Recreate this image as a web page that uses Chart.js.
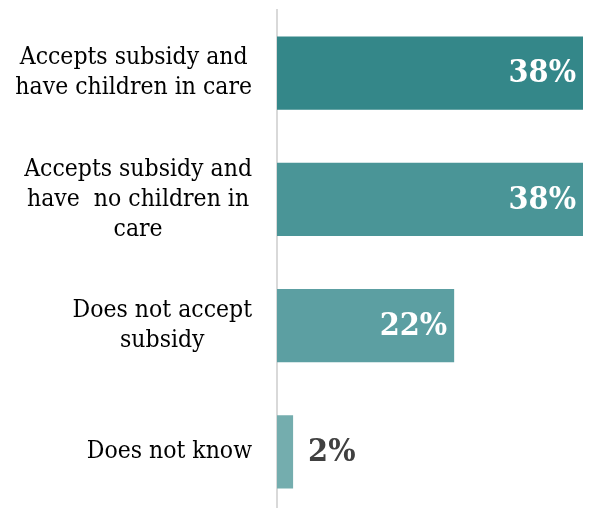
<!DOCTYPE html>
<html lang="en">
<head>
  <meta charset="UTF-8" />
  <script src="https://cdn.jsdelivr.net/npm/chart.js"></script>
  <title>Subsidy</title>
  <style>
    html, body { margin: 0; padding: 0; background: #fff; overflow: hidden; }
    .caixa { width: 590px; height: 516px; position: relative; }
  </style>
</head>
<body>
  <div class="caixa">
    <canvas id="grafico_subsidio"></canvas>
  </div>

<script>
  // dados
  var categorias = [
    ["Accepts subsidy and", "have children in care"],
    ["Accepts subsidy and", "have  no children in", "care"],
    ["Does not accept", "subsidy"],
    ["Does not know"]
  ];
  var valores = [38, 38, 22, 2];
  var cores = ["#348789", "#4a9597", "#5c9fa2", "#74adae"];

  const fonteValor = "bold 32px 'DejaVu Serif Condensed', 'DejaVu Serif', serif";
  const fonteCategoria = "24.5px 'DejaVu Serif Condensed', 'DejaVu Serif', serif";

  // escreve os rotulos % nas barras
  const rotulos = {
    id: "rotulos",
    afterDatasetsDraw(chart) {
      const ctx = chart.ctx;
      const meta = chart.getDatasetMeta(0);
      ctx.save();
      ctx.font = fonteValor;
      ctx.textBaseline = "middle";
      meta.data.forEach(function (barra, i) {
        const v = valores[i];
        if (v >= 10) {
          ctx.fillStyle = "#ffffff";
          ctx.textAlign = "right";
          ctx.fillText(v + "%", barra.x - 7, barra.y + 1);
        } else {
          ctx.fillStyle = "#404040";
          ctx.textAlign = "left";
          ctx.fillText(v + "%", barra.x + 15, barra.y + 1);
        }
      });
      ctx.restore();
    }
  };

  // rotulos das categorias: bloco encostado no eixo, linhas centralizadas
  const categoriasEixo = {
    id: "categoriasEixo",
    afterDraw(chart) {
      const ctx = chart.ctx;
      const escala = chart.scales.y;
      const direita = escala.right - 25;
      const lh = 30;
      ctx.save();
      ctx.font = fonteCategoria;
      ctx.fillStyle = "#000000";
      ctx.textAlign = "center";
      ctx.textBaseline = "middle";
      categorias.forEach(function (linhas, i) {
        const y = escala.getPixelForTick(i);
        let largura = 0;
        linhas.forEach(function (l) { largura = Math.max(largura, ctx.measureText(l).width); });
        const cx = direita - largura / 2;
        linhas.forEach(function (l, j) {
          ctx.fillText(l, cx, y - (linhas.length - 1) * lh / 2 + j * lh);
        });
      });
      ctx.restore();
    }
  };

  const grafico = new Chart(document.getElementById("grafico_subsidio").getContext("2d"), {
    type: "bar",
    data: {
      labels: categorias,
      datasets: [{
        data: valores,
        backgroundColor: cores,
        barPercentage: 0.58,
        categoryPercentage: 1
      }]
    },
    options: {
      indexAxis: "y",
      responsive: true,
      maintainAspectRatio: false,
      animation: false,
      layout: { padding: { top: 10, right: 7, bottom: 1, left: 0 } },
      plugins: {
        legend: { display: false },
        tooltip: { enabled: false }
      },
      scales: {
        x: {
          display: false,
          min: 0,
          max: 38
        },
        y: {
          afterFit: function (s) {
            s.width = 277;
            s.paddingTop = 0;
            s.paddingBottom = 0;
          },
          grid: { display: false, drawTicks: false },
          border: { display: true, color: "#d9d9d9", width: 2 },
          ticks: { display: false }
        }
      }
    },
    plugins: [rotulos, categoriasEixo]
  });
</script>
</body>
</html>
